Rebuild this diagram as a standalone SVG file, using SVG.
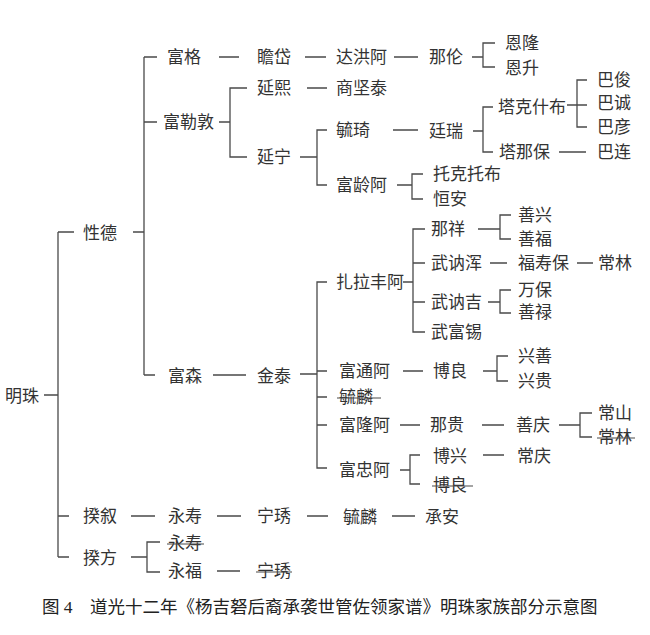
<svg xmlns="http://www.w3.org/2000/svg" width="650" height="635" viewBox="0 0 650 635">
<style>
text{font-family:"Liberation Serif","Noto Sans CJK SC",serif;font-size:17px;fill:#333;dominant-baseline:central}
.c{fill:none;stroke:#4a4a4a;stroke-width:1.3}
.s{stroke:#4a4a4a;stroke-width:1.2}
.cap{font-size:17.5px;fill:#222}
</style>
<rect width="650" height="635" fill="#fff"/>
<g id="connectors" class="c">
<path d="M44,395H58M58,232V557M58,232H74M58,516H69M58,557H69"/>
<path d="M133,232H144M144,57V375M144,57H157M144,122H157M144,375H155"/>
<path d="M219,57H239M305,57H326M394,57H418M472,57H483M495,43H483V67H495"/>
<path d="M219,122H230M247,88H230V157H247M307,88H327"/>
<path d="M300,157H317M327,130H317V185H327M393,130H418"/>
<path d="M473,131H483M493,107H483V152H493M567,105H587M587,80H577V127H587M559,152H586"/>
<path d="M397,185H412M423,174H412V199H423"/>
<path d="M213,375H246M300,374H317M327,282H317V468H327M317,371H327M317,397H327M317,425H327"/>
<path d="M403,282H413M425,229H413V332H425M413,263H425M413,302H425"/>
<path d="M478,229H500M511,215H500V239H511M490,263H507M577,263H593M488,302H500M511,290H500V313H511"/>
<path d="M403,371H423M483,371H497M508,356H497V381H508"/>
<path d="M400,425H420M482,425H504M559,425H580M592,413H580V437H592"/>
<path d="M400,470H410M420,455H410V484H420M483,455H504"/>
<path d="M131,516H155M217,516H241M307,516H328M392,516H415"/>
<path d="M131,557H147M160,542H147V572H160M217,571H240"/>
</g>
<g id="n-mingzhu"><text x="5" y="396">明珠</text></g>
<g id="n-xingde"><text x="83" y="233">性德</text></g>
<g id="n-kuixu"><text x="83" y="516">揆叙</text></g>
<g id="n-kuifang"><text x="83" y="558">揆方</text></g>
<g id="n-fuge"><text x="167" y="57">富格</text></g>
<g id="n-fulede"><text x="163" y="122">富勒敦</text></g>
<g id="n-fusen"><text x="168" y="376">富森</text></g>
<g id="n-zhandai"><text x="257" y="57">瞻岱</text></g>
<g id="n-dahonga"><text x="336" y="57">达洪阿</text></g>
<g id="n-nalun"><text x="429" y="57">那伦</text></g>
<g id="n-enlong"><text x="505" y="43">恩隆</text></g>
<g id="n-ensheng"><text x="505" y="68">恩升</text></g>
<g id="n-yanxi"><text x="257" y="88">延熙</text></g>
<g id="n-shangjiantai"><text x="336" y="88">商坚泰</text></g>
<g id="n-yanning"><text x="257" y="157">延宁</text></g>
<g id="n-yuqi"><text x="336" y="130">毓琦</text></g>
<g id="n-tingrui"><text x="429" y="131">廷瑞</text></g>
<g id="n-takeshibu"><text x="498" y="107">塔克什布</text></g>
<g id="n-bajun"><text x="597" y="80">巴俊</text></g>
<g id="n-bacheng"><text x="597" y="103">巴诚</text></g>
<g id="n-bayan"><text x="597" y="127">巴彦</text></g>
<g id="n-tanabao"><text x="499" y="152">塔那保</text></g>
<g id="n-balian"><text x="597" y="152">巴连</text></g>
<g id="n-fulinga"><text x="336" y="185">富龄阿</text></g>
<g id="n-tuoketuobu"><text x="433" y="174">托克托布</text></g>
<g id="n-hengan"><text x="433" y="199">恒安</text></g>
<g id="n-jintai"><text x="257" y="376">金泰</text></g>
<g id="n-zhalafenga"><text x="336" y="282">扎拉丰阿</text></g>
<g id="n-naxiang"><text x="431" y="229">那祥</text></g>
<g id="n-shanxing"><text x="518" y="215">善兴</text></g>
<g id="n-shanfu"><text x="518" y="239">善福</text></g>
<g id="n-wunahun"><text x="431" y="263">武讷浑</text></g>
<g id="n-fushoubao"><text x="518" y="263">福寿保</text></g>
<g id="n-changlin1"><text x="598" y="263">常林</text></g>
<g id="n-wunaji"><text x="431" y="302">武讷吉</text></g>
<g id="n-wanbao"><text x="518" y="290">万保</text></g>
<g id="n-shanlu"><text x="518" y="312">善禄</text></g>
<g id="n-wufuxi"><text x="431" y="332">武富锡</text></g>
<g id="n-futonga"><text x="339" y="371">富通阿</text></g>
<g id="n-boliang1"><text x="433" y="371">博良</text></g>
<g id="n-xingshan"><text x="518" y="356">兴善</text></g>
<g id="n-xinggui"><text x="518" y="381">兴贵</text></g>
<g id="n-yulin1"><text x="339" y="397">毓麟</text><line class="s" x1="337" y1="398" x2="381" y2="398"/></g>
<g id="n-fulonga"><text x="339" y="425">富隆阿</text></g>
<g id="n-nagui"><text x="430" y="425">那贵</text></g>
<g id="n-shanqing"><text x="516" y="425">善庆</text></g>
<g id="n-changshan"><text x="598" y="413">常山</text></g>
<g id="n-changlin2"><text x="598" y="437">常林</text><line class="s" x1="597" y1="438" x2="635" y2="438"/></g>
<g id="n-fuzhonga"><text x="339" y="470">富忠阿</text></g>
<g id="n-boxing"><text x="433" y="456">博兴</text></g>
<g id="n-changqing"><text x="517" y="456">常庆</text></g>
<g id="n-boliang2"><text x="433" y="485">博良</text><line class="s" x1="432" y1="486" x2="473" y2="486"/></g>
<g id="n-yongshou1"><text x="168" y="516">永寿</text></g>
<g id="n-yuxiu1"><text x="257" y="516">宁琇</text></g>
<g id="n-yulin2"><text x="343" y="517">毓麟</text></g>
<g id="n-chengan"><text x="425" y="517">承安</text></g>
<g id="n-yongshou2"><text x="168" y="543">永寿</text><line class="s" x1="167" y1="544" x2="204" y2="544"/></g>
<g id="n-yongfu"><text x="168" y="571">永福</text></g>
<g id="n-yuxiu2"><text x="257" y="571">宁琇</text><line class="s" x1="256" y1="572" x2="292" y2="572"/></g>
<g id="caption">
<text class="cap" x="42" y="607">图 4</text>
<text class="cap" x="90" y="607">道光十二年《杨吉砮后裔承袭世管佐领家谱》明珠家族部分示意图</text>
</g>
</svg>
